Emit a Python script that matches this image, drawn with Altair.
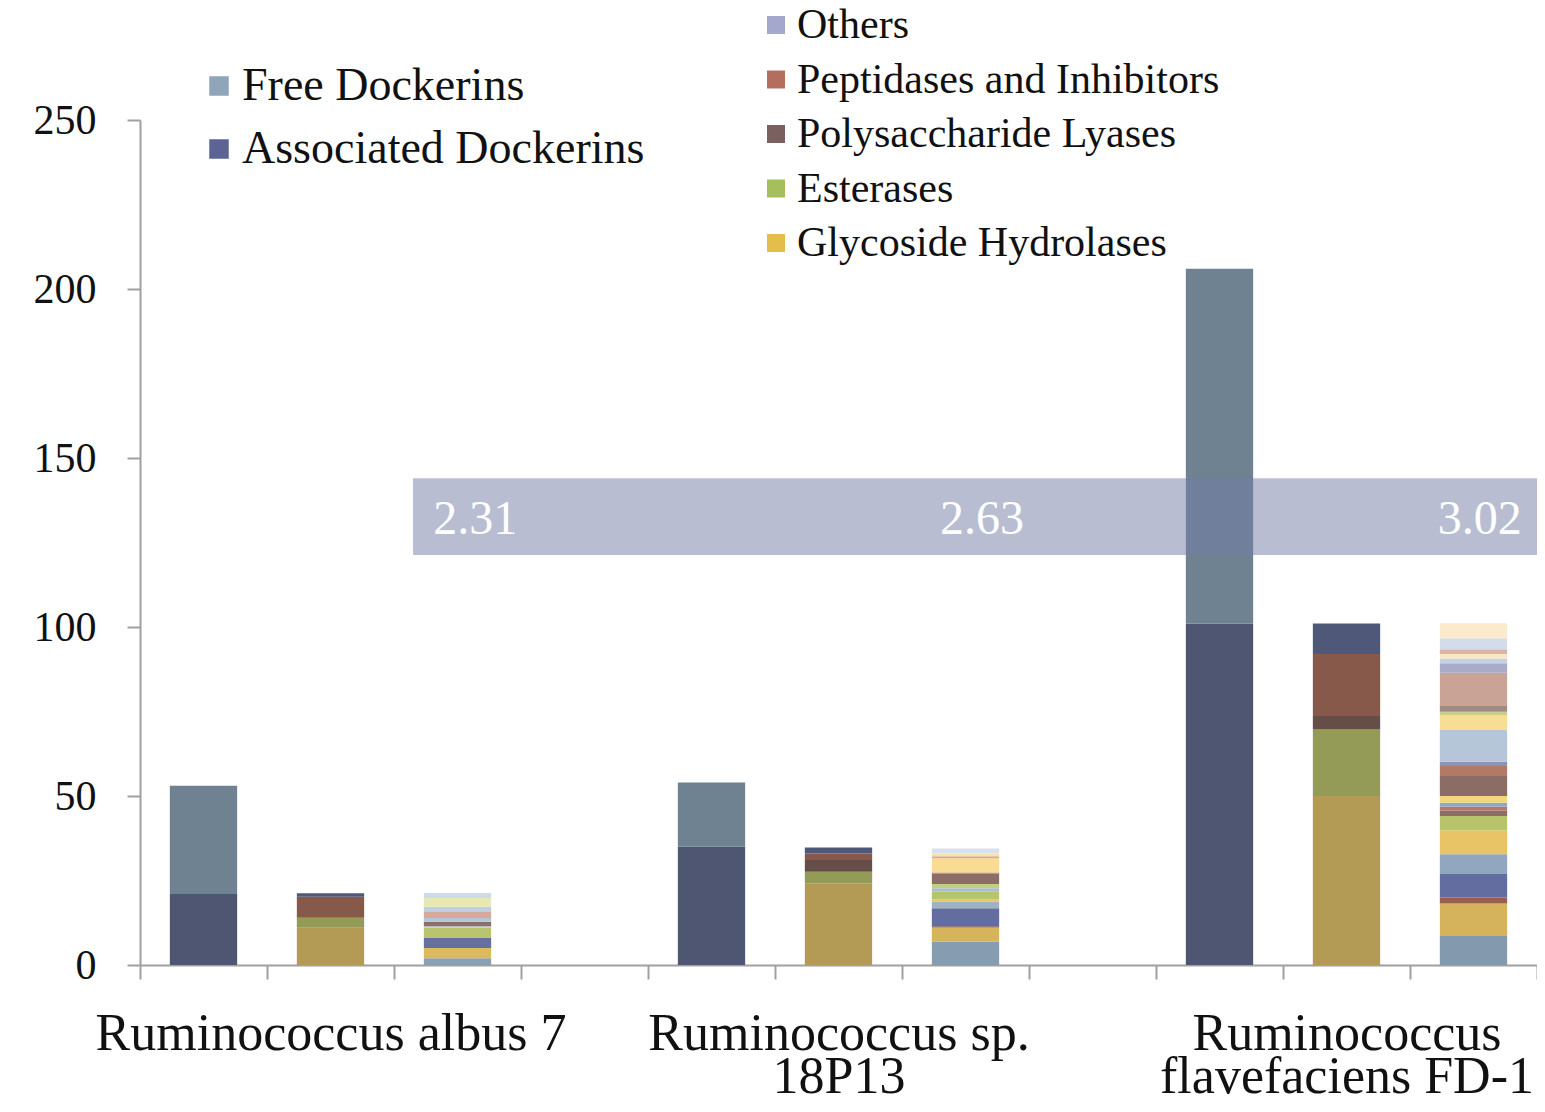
import json
import altair as alt
import pandas as pd

# ---------------- data ----------------
slots = ["c1", "c2", "c3", "c4", "c5", "c6", "c7", "c8", "c9", "c10", "c11"]
group_labels = {
    "c2": ["Ruminococcus albus 7"],
    "c6": ["Ruminococcus sp.", "18P13"],
    "c10": ["Ruminococcus", "flavefaciens FD-1"],
}

dock_slots = ["c1", "c5", "c9"]
dock_series = ["Free Dockerins", "Associated Dockerins"]
associated = [21, 35, 101]
free = [32, 19, 105]

func_slots = ["c2", "c6", "c10"]
func_series = ["Others", "Peptidases and Inhibitors", "Polysaccharide Lyases",
               "Esterases", "Glycoside Hydrolases"]
glycoside = [11, 24.2, 50]
esterases = [3, 3.4, 19.7]
lyases = [0, 3.5, 4]
peptidases = [6.2, 1.9, 18.3]
others = [1, 1.8, 9]

detail_slots = ["c3", "c7", "c11"]
detail_a = [2, 3, 3, 3, 0.5, 1.3, 1.1, 1.8, 1.5, 2.6, 1.5]
detail_b = [6.9, 4.2, 0.4, 5.3, 1.9, 0.7, 2.3, 1.0, 1.3, 3.1, 0.3, 4.2, 0.6, 0.8, 1.5]
detail_c = [8.6, 9.6, 1.8, 6.9, 5.9, 7.1, 4.2, 1.6, 1.1, 1.2, 2.0, 5.9, 3.0, 1.2,
            9.6, 4.3, 0.9, 1.7, 9.9, 2.8, 1.4, 1.3, 1.4, 3.3, 4.4]

ratio_labels = ["2.31", "2.63", "3.02"]
ratio_pos = [2.64, 6.63, 10.55]
ratio_value = [131.6, 131.6, 131.6]
band_x = [2.15, 11.1]
band_y = [121.3, 144.0]

# ---------------- styles ----------------
dock_bar_colors = ["#6e8292", "#4e5672"]
dock_legend_colors = ["#8ea5ba", "#5b6494"]
func_bar_colors = ["#4f5879", "#86594b", "#654d48", "#939b56", "#b39a55"]
func_legend_colors = ["#a3a8cc", "#b46e5e", "#7a605e", "#a4bf5c", "#e3be4d"]
colors_a = ["#8aa0b4", "#dcbb5e", "#66709f", "#b8c56e", "#b8c8d8", "#8c6f66",
            "#b5c5d8", "#d6a99b", "#c0cfe0", "#e9e8b2", "#cfdbe8"]
colors_b = ["#869cb0", "#d5b45c", "#8a5a4c", "#636d9f", "#9fb2c4", "#e6c566",
            "#b6c46c", "#a9bdd3", "#c2cf80", "#8c6e66", "#b07866", "#f8dc94",
            "#d8ab98", "#f8e2a8", "#d7e2ee"]
colors_c = ["#8399ae", "#d4b35c", "#9a5e4c", "#636d9f", "#90a7bf", "#e8c466",
            "#b6c46c", "#8c6e66", "#b87866", "#8fa7c8", "#f3d77e", "#8b6d66",
            "#b07a66", "#8c93b8", "#b5c6d9", "#f8dd95", "#c8cf8a", "#a08a86",
            "#c9a396", "#a9abc9", "#c5d2e2", "#f8e8c0", "#dcb4a6", "#d3dcea",
            "#fbeacb"]

FONT = "Liberation Serif"
GREY = "#a0a0a0"
BAR_W = alt.RelativeBandSize(0.53)

# ---------------- tables ----------------
dock_rows = []
for i, s in enumerate(dock_slots):
    dock_rows.append({"slot": s, "series": "Associated Dockerins", "value": associated[i], "order": 0})
    dock_rows.append({"slot": s, "series": "Free Dockerins", "value": free[i], "order": 1})
dock_df = pd.DataFrame(dock_rows)

func_rows = []
stack_order = [("Glycoside Hydrolases", glycoside), ("Esterases", esterases),
               ("Polysaccharide Lyases", lyases), ("Peptidases and Inhibitors", peptidases),
               ("Others", others)]
for i, s in enumerate(func_slots):
    for k, (name, arr) in enumerate(stack_order):
        func_rows.append({"slot": s, "series": name, "value": arr[i], "order": k})
func_df = pd.DataFrame(func_rows)

det_rows, det_domain, det_range = [], [], []
for s, vals, cols in zip(detail_slots, [detail_a, detail_b, detail_c], [colors_a, colors_b, colors_c]):
    for k, (v, c) in enumerate(zip(vals, cols)):
        key = f"{s}_{k:02d}"
        det_rows.append({"slot": s, "seg": key, "value": v, "order": k})
        det_domain.append(key)
        det_range.append(c)
det_df = pd.DataFrame(det_rows)

leg1_df = pd.DataFrame({"slot": ["c1"] * 2, "series": dock_series, "zero": [0, 0]})
leg2_df = pd.DataFrame({"slot": ["c2"] * 5, "series": func_series, "zero": [0] * 5})

band_df = pd.DataFrame({"x1": [band_x[0]], "x2": [band_x[1]], "y1": [band_y[0]], "y2": [band_y[1]]})
ratio_df = pd.DataFrame({"label": ratio_labels, "pos": ratio_pos, "val": ratio_value})

# ---------------- axes ----------------
label_expr = ""
for k, v in group_labels.items():
    label_expr += f"datum.value == '{k}' ? {json.dumps(v)} : "
label_expr += "''"

x_axis = alt.Axis(
    title=None, labelExpr=label_expr, labelAngle=0, labelFont=FONT, labelFontSize=52,
    labelColor="#111111", labelLimit=0, labelOverlap=False, labelBound=False,
    labelLineHeight=43, labelPadding=29, labelBaseline="top",
    tickBand="extent", tickSize=14, tickColor=GREY, tickWidth=2,
    domainColor=GREY, domainWidth=2, grid=False,
)
X = alt.X("slot:N", scale=alt.Scale(domain=slots, paddingInner=0, paddingOuter=0), axis=x_axis)

y_axis = alt.Axis(
    title=None, values=[0, 50, 100, 150, 200, 250], labelFont=FONT, labelFontSize=42,
    labelColor="#111111", labelPadding=31, tickSize=13, tickColor=GREY, tickWidth=2,
    domainColor=GREY, domainWidth=2, grid=False,
)
YSCALE = alt.Scale(domain=[0, 250], nice=False)

# ---------------- layers ----------------
dock_bars = alt.Chart(dock_df).mark_bar(width=BAR_W).encode(
    x=X,
    y=alt.Y("value:Q", stack="zero", scale=YSCALE, axis=y_axis),
    color=alt.Color("series:N", scale=alt.Scale(domain=dock_series, range=dock_bar_colors), legend=None),
    order=alt.Order("order:Q"),
)

func_bars = alt.Chart(func_df).mark_bar(width=BAR_W).encode(
    x=X,
    y=alt.Y("value:Q", stack="zero", scale=YSCALE, axis=y_axis),
    color=alt.Color("series:N", scale=alt.Scale(domain=func_series, range=func_bar_colors), legend=None),
    order=alt.Order("order:Q"),
)

det_bars = alt.Chart(det_df).mark_bar(width=BAR_W).encode(
    x=X,
    y=alt.Y("value:Q", stack="zero", scale=YSCALE, axis=y_axis),
    color=alt.Color("seg:N", scale=alt.Scale(domain=det_domain, range=det_range), legend=None),
    order=alt.Order("order:Q"),
)

leg1 = alt.Chart(leg1_df).mark_bar(width=BAR_W).encode(
    x=X,
    y=alt.Y("zero:Q", scale=YSCALE, axis=y_axis),
    y2="zero:Q",
    color=alt.Color(
        "series:N",
        scale=alt.Scale(domain=dock_series, range=dock_legend_colors),
        legend=alt.Legend(
            title=None, orient="none", legendX=56, legendY=-57, direction="vertical",
            labelFont=FONT, labelFontSize=46, labelColor="#111111", labelLimit=0,
            symbolType="square", symbolSize=380, symbolStrokeWidth=0, symbolOpacity=1,
            rowPadding=17, labelOffset=0, padding=0,
        ),
    ),
)

leg2 = alt.Chart(leg2_df).mark_bar(width=BAR_W).encode(
    x=X,
    y=alt.Y("zero:Q", scale=YSCALE, axis=y_axis),
    y2="zero:Q",
    color=alt.Color(
        "series:N",
        scale=alt.Scale(domain=func_series, range=func_legend_colors),
        legend=alt.Legend(
            title=None, orient="none", legendX=615, legendY=-116, direction="vertical",
            labelFont=FONT, labelFontSize=42, labelColor="#111111", labelLimit=0,
            symbolType="square", symbolSize=324, symbolStrokeWidth=0, symbolOpacity=1,
            rowPadding=12.5, labelOffset=0, padding=0,
        ),
    ),
)

bars = alt.layer(dock_bars, func_bars, det_bars, leg1, leg2).resolve_scale(color="independent")

XQ = alt.Scale(domain=[0, 11], nice=False, zero=False)
band = alt.Chart(band_df).mark_rect(color="#717ba5", opacity=0.5, clip=False).encode(
    x=alt.X("x1:Q", scale=XQ, axis=None),
    x2="x2:Q",
    y=alt.Y("y1:Q", scale=YSCALE, axis=y_axis),
    y2="y2:Q",
)
ratios = alt.Chart(ratio_df).mark_text(
    font=FONT, fontSize=48, color="white", align="center", baseline="middle"
).encode(
    x=alt.X("pos:Q", scale=XQ, axis=None),
    y=alt.Y("val:Q", scale=YSCALE, axis=y_axis),
    text="label:N",
)
annot = alt.layer(band, ratios)

chart = alt.layer(bars, annot).resolve_scale(x="independent", color="independent").properties(
    width=1397, height=845,
    padding={"left": 132, "top": 112, "right": 0, "bottom": 134},
    autosize=alt.AutoSizeParams(type="none"),
    background="white",
).configure_view(stroke=None)

chart.save("out.html", embed_options={"renderer": "svg", "actions": False})
